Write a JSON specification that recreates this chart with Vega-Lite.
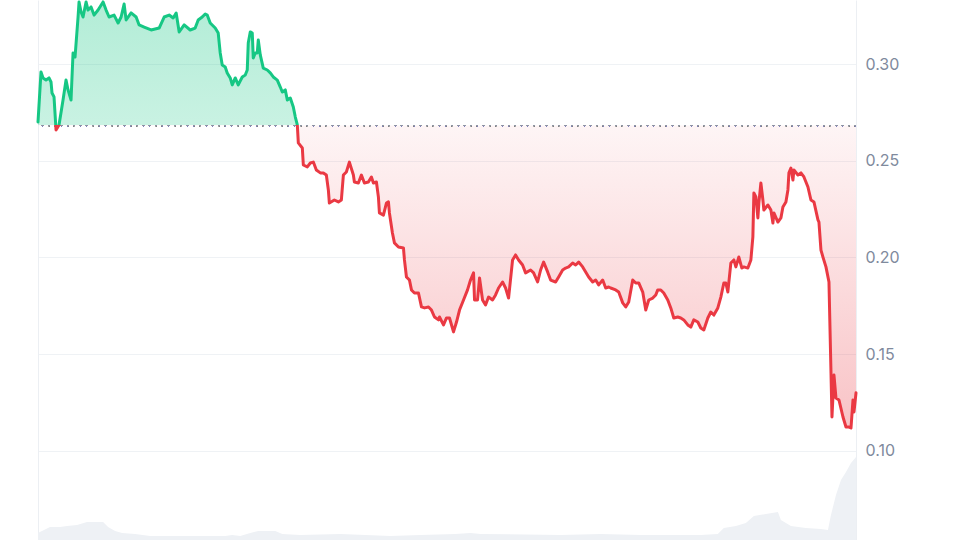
{
  "$schema": "https://vega.github.io/schema/vega-lite/v6.json",
  "width": 818,
  "height": 540,
  "autosize": {"type": "none"},
  "padding": {"left": 38, "right": 104, "top": 0, "bottom": 0},
  "background": "#ffffff",
  "config": {"view": {"stroke": null}, "font": "Inter"},
  "datasets": {
    "price": [
      {"t":0,"p":0.2700},{"t":3,"p":0.2959},{"t":5,"p":0.2928},{"t":8,"p":0.2917},{"t":11,"p":0.2928},{"t":13,"p":0.2907},{"t":14,"p":0.2850},{"t":16,"p":0.2830},{"t":18,"p":0.2659},{"t":21,"p":0.2685},{"t":25,"p":0.2814},{"t":28,"p":0.2917},{"t":30,"p":0.2866},{"t":33,"p":0.2814},{"t":35,"p":0.3057},{"t":37,"p":0.3036},{"t":40,"p":0.3243},{"t":41,"p":0.3321},{"t":43,"p":0.3269},{"t":45,"p":0.3243},{"t":48,"p":0.3321},{"t":50,"p":0.3279},{"t":53,"p":0.3295},{"t":56,"p":0.3253},{"t":60,"p":0.3279},{"t":65,"p":0.3321},{"t":68,"p":0.3279},{"t":71,"p":0.3243},{"t":76,"p":0.3253},{"t":80,"p":0.3212},{"t":83,"p":0.3243},{"t":86,"p":0.3310},{"t":88,"p":0.3228},{"t":93,"p":0.3264},{"t":98,"p":0.3243},{"t":101,"p":0.3202},{"t":106,"p":0.3191},{"t":113,"p":0.3176},{"t":121,"p":0.3186},{"t":126,"p":0.3243},{"t":131,"p":0.3253},{"t":135,"p":0.3238},{"t":138,"p":0.3264},{"t":141,"p":0.3166},{"t":146,"p":0.3202},{"t":152,"p":0.3176},{"t":157,"p":0.3186},{"t":160,"p":0.3228},{"t":164,"p":0.3243},{"t":167,"p":0.3259},{"t":169,"p":0.3253},{"t":172,"p":0.3212},{"t":177,"p":0.3186},{"t":180,"p":0.3160},{"t":182,"p":0.3057},{"t":184,"p":0.2995},{"t":187,"p":0.2985},{"t":189,"p":0.2954},{"t":192,"p":0.2928},{"t":194,"p":0.2892},{"t":197,"p":0.2928},{"t":200,"p":0.2892},{"t":204,"p":0.2933},{"t":207,"p":0.2943},{"t":209,"p":0.2969},{"t":210,"p":0.3109},{"t":212,"p":0.3166},{"t":214,"p":0.3160},{"t":215,"p":0.3031},{"t":217,"p":0.3057},{"t":219,"p":0.3057},{"t":220,"p":0.3124},{"t":222,"p":0.3047},{"t":225,"p":0.2979},{"t":229,"p":0.2969},{"t":232,"p":0.2954},{"t":235,"p":0.2933},{"t":239,"p":0.2917},{"t":242,"p":0.2881},{"t":244,"p":0.2855},{"t":247,"p":0.2866},{"t":249,"p":0.2814},{"t":252,"p":0.2824},{"t":255,"p":0.2778},{"t":257,"p":0.2726},{"t":259,"p":0.2685},{"t":260,"p":0.2592},{"t":264,"p":0.2566},{"t":265,"p":0.2478},{"t":269,"p":0.2468},{"t":272,"p":0.2488},{"t":275,"p":0.2493},{"t":278,"p":0.2452},{"t":282,"p":0.2437},{"t":285,"p":0.2437},{"t":288,"p":0.2426},{"t":290,"p":0.2349},{"t":291,"p":0.2281},{"t":296,"p":0.2297},{"t":300,"p":0.2287},{"t":303,"p":0.2297},{"t":305,"p":0.2426},{"t":308,"p":0.2442},{"t":311,"p":0.2493},{"t":315,"p":0.2426},{"t":316,"p":0.2390},{"t":320,"p":0.2385},{"t":323,"p":0.2426},{"t":326,"p":0.2385},{"t":330,"p":0.2390},{"t":333,"p":0.2416},{"t":335,"p":0.2385},{"t":338,"p":0.2390},{"t":340,"p":0.2312},{"t":341,"p":0.2230},{"t":345,"p":0.2219},{"t":348,"p":0.2281},{"t":350,"p":0.2287},{"t":351,"p":0.2230},{"t":354,"p":0.2126},{"t":356,"p":0.2075},{"t":360,"p":0.2054},{"t":365,"p":0.2049},{"t":366,"p":0.1987},{"t":368,"p":0.1899},{"t":371,"p":0.1883},{"t":373,"p":0.1832},{"t":376,"p":0.1816},{"t":380,"p":0.1816},{"t":383,"p":0.1744},{"t":386,"p":0.1739},{"t":390,"p":0.1744},{"t":393,"p":0.1728},{"t":396,"p":0.1692},{"t":400,"p":0.1677},{"t":401,"p":0.1692},{"t":405,"p":0.1651},{"t":408,"p":0.1687},{"t":411,"p":0.1687},{"t":415,"p":0.1615},{"t":418,"p":0.1666},{"t":421,"p":0.1728},{"t":425,"p":0.1780},{"t":429,"p":0.1832},{"t":432,"p":0.1883},{"t":435,"p":0.1920},{"t":436,"p":0.1780},{"t":439,"p":0.1780},{"t":441,"p":0.1894},{"t":444,"p":0.1780},{"t":447,"p":0.1754},{"t":450,"p":0.1795},{"t":454,"p":0.1780},{"t":457,"p":0.1806},{"t":460,"p":0.1842},{"t":464,"p":0.1873},{"t":467,"p":0.1842},{"t":470,"p":0.1790},{"t":474,"p":0.1987},{"t":477,"p":0.2013},{"t":480,"p":0.1987},{"t":484,"p":0.1961},{"t":487,"p":0.1920},{"t":492,"p":0.1935},{"t":495,"p":0.1920},{"t":499,"p":0.1873},{"t":502,"p":0.1935},{"t":505,"p":0.1976},{"t":509,"p":0.1925},{"t":512,"p":0.1883},{"t":517,"p":0.1873},{"t":520,"p":0.1899},{"t":524,"p":0.1935},{"t":527,"p":0.1945},{"t":530,"p":0.1951},{"t":534,"p":0.1971},{"t":537,"p":0.1961},{"t":540,"p":0.1976},{"t":544,"p":0.1951},{"t":547,"p":0.1925},{"t":550,"p":0.1899},{"t":554,"p":0.1873},{"t":557,"p":0.1883},{"t":560,"p":0.1858},{"t":564,"p":0.1883},{"t":567,"p":0.1842},{"t":570,"p":0.1847},{"t":572,"p":0.1842},{"t":577,"p":0.1832},{"t":580,"p":0.1821},{"t":584,"p":0.1765},{"t":587,"p":0.1744},{"t":590,"p":0.1770},{"t":594,"p":0.1883},{"t":597,"p":0.1868},{"t":600,"p":0.1868},{"t":604,"p":0.1821},{"t":607,"p":0.1728},{"t":610,"p":0.1780},{"t":614,"p":0.1790},{"t":617,"p":0.1806},{"t":619,"p":0.1832},{"t":622,"p":0.1832},{"t":625,"p":0.1816},{"t":629,"p":0.1780},{"t":632,"p":0.1739},{"t":635,"p":0.1687},{"t":639,"p":0.1692},{"t":642,"p":0.1687},{"t":645,"p":0.1677},{"t":649,"p":0.1651},{"t":652,"p":0.1640},{"t":655,"p":0.1677},{"t":659,"p":0.1666},{"t":662,"p":0.1635},{"t":665,"p":0.1625},{"t":669,"p":0.1687},{"t":672,"p":0.1718},{"t":675,"p":0.1702},{"t":679,"p":0.1739},{"t":682,"p":0.1795},{"t":685,"p":0.1868},{"t":687,"p":0.1868},{"t":689,"p":0.1821},{"t":692,"p":0.1971},{"t":695,"p":0.1987},{"t":697,"p":0.1951},{"t":700,"p":0.2002},{"t":703,"p":0.1945},{"t":705,"p":0.1951},{"t":709,"p":0.1945},{"t":712,"p":0.1987},{"t":714,"p":0.2106},{"t":715,"p":0.2333},{"t":717,"p":0.2313},{"t":719,"p":0.2204},{"t":720,"p":0.2281},{"t":722,"p":0.2385},{"t":724,"p":0.2297},{"t":725,"p":0.2245},{"t":729,"p":0.2271},{"t":732,"p":0.2245},{"t":734,"p":0.2178},{"t":735,"p":0.2230},{"t":739,"p":0.2183},{"t":742,"p":0.2204},{"t":744,"p":0.2261},{"t":747,"p":0.2287},{"t":749,"p":0.2349},{"t":750,"p":0.2437},{"t":752,"p":0.2462},{"t":754,"p":0.2400},{"t":755,"p":0.2452},{"t":759,"p":0.2426},{"t":762,"p":0.2437},{"t":765,"p":0.2416},{"t":767,"p":0.2390},{"t":769,"p":0.2364},{"t":772,"p":0.2297},{"t":775,"p":0.2287},{"t":779,"p":0.2194},{"t":780,"p":0.2183},{"t":782,"p":0.2038},{"t":784,"p":0.2002},{"t":787,"p":0.1951},{"t":790,"p":0.1873},{"t":791,"p":0.1640},{"t":793,"p":0.1175},{"t":795,"p":0.1392},{"t":797,"p":0.1273},{"t":800,"p":0.1263},{"t":804,"p":0.1175},{"t":807,"p":0.1123},{"t":810,"p":0.1123},{"t":812,"p":0.1118},{"t":814,"p":0.1263},{"t":815,"p":0.1201},{"t":817,"p":0.1300}
    ],
    "volume": [
      {"t":0,"v":7},{"t":6,"v":10},{"t":12,"v":13},{"t":22,"v":13},{"t":29,"v":14},{"t":39,"v":15},{"t":49,"v":18},{"t":65,"v":18},{"t":70,"v":13},{"t":77,"v":9},{"t":84,"v":7},{"t":97,"v":6},{"t":112,"v":4},{"t":187,"v":4},{"t":194,"v":5},{"t":202,"v":4},{"t":212,"v":7},{"t":220,"v":9},{"t":237,"v":9},{"t":244,"v":6},{"t":262,"v":5},{"t":302,"v":6},{"t":352,"v":4},{"t":382,"v":5},{"t":417,"v":6},{"t":432,"v":7},{"t":442,"v":6},{"t":522,"v":5},{"t":562,"v":6},{"t":602,"v":5},{"t":662,"v":5},{"t":679,"v":6},{"t":685,"v":12},{"t":697,"v":14},{"t":707,"v":17},{"t":715,"v":24},{"t":727,"v":26},{"t":739,"v":28},{"t":742,"v":20},{"t":752,"v":14},{"t":767,"v":12},{"t":782,"v":11},{"t":789,"v":10},{"t":792,"v":25},{"t":797,"v":45},{"t":802,"v":60},{"t":807,"v":68},{"t":812,"v":77},{"t":817,"v":83}
    ]
  },
  "layer": [
    {
      "data": {"name": "volume"},
      "mark": {"type": "area", "color": "#eef1f5", "opacity": 1},
      "encoding": {
        "x": {"field": "t", "type": "quantitative", "scale": {"domain": [0, 817], "nice": false, "zero": false}, "axis": null},
        "y": {"field": "v", "type": "quantitative", "scale": {"domain": [0, 540], "nice": false},
          "axis": {"orient": "left", "labels": false, "ticks": false, "grid": false, "title": null, "domain": true, "domainColor": "#eceff3", "domainWidth": 1}}
      }
    },
    {
      "data": {"name": "price"},
      "layer": [
        {
          "mark": {"type": "area", "fill": {"gradient": "linear", "x1": 0, "y1": 0, "x2": 0, "y2": 1, "stops": [
            {"offset": 0, "color": "rgba(22,199,132,0.33)"},
            {"offset": 0.29, "color": "rgba(22,199,132,0.23)"},
            {"offset": 0.29, "color": "rgba(234,57,67,0.05)"},
            {"offset": 1, "color": "rgba(234,57,67,0.30)"}
          ]}},
          "encoding": {
            "x": {"field": "t", "type": "quantitative", "scale": {"domain": [0, 817], "nice": false, "zero": false}, "axis": null},
            "y": {"field": "p", "type": "quantitative", "scale": {"domain": [0.0539, 0.3331], "nice": false, "zero": false},
              "axis": {"orient": "right", "values": [0.10, 0.15, 0.20, 0.25, 0.30], "format": ".2f", "title": null, "ticks": false, "grid": true, "gridColor": "#eff2f5", "gridWidth": 1, "domain": true, "domainColor": "#eceff3", "labelPadding": 9, "labelFontSize": 16, "labelColor": "#808a9d", "labelFont": "Inter"}},
            "y2": {"datum": 0.2682}
          }
        },
        {
          "mark": {"type": "rule", "stroke": "#8f95a3", "strokeWidth": 1, "strokeDash": [1.5, 4.8]},
          "encoding": {"y": {"datum": 0.2682, "type": "quantitative",
              "axis": {"orient": "right", "values": [0.10, 0.15, 0.20, 0.25, 0.30], "format": ".2f", "title": null, "ticks": false, "grid": true, "gridColor": "#eff2f5", "gridWidth": 1, "domain": true, "domainColor": "#eceff3", "labelPadding": 9, "labelFontSize": 16, "labelColor": "#808a9d", "labelFont": "Inter"}}}
        },
        {
          "mark": {"type": "line", "strokeWidth": 3, "strokeJoin": "round", "strokeCap": "round", "stroke": {"gradient": "linear", "x1": 0, "y1": 0, "x2": 0, "y2": 1, "stops": [
            {"offset": 0, "color": "#16c784"},
            {"offset": 0.29, "color": "#16c784"},
            {"offset": 0.29, "color": "#ea3943"},
            {"offset": 1, "color": "#ea3943"}
          ]}},
          "encoding": {
            "x": {"field": "t", "type": "quantitative"},
            "y": {"field": "p", "type": "quantitative",
              "axis": {"orient": "right", "values": [0.10, 0.15, 0.20, 0.25, 0.30], "format": ".2f", "title": null, "ticks": false, "grid": true, "gridColor": "#eff2f5", "gridWidth": 1, "domain": true, "domainColor": "#eceff3", "labelPadding": 9, "labelFontSize": 16, "labelColor": "#808a9d", "labelFont": "Inter"}}
          }
        }
      ]
    }
  ],
  "resolve": {"scale": {"y": "independent"}}
}
